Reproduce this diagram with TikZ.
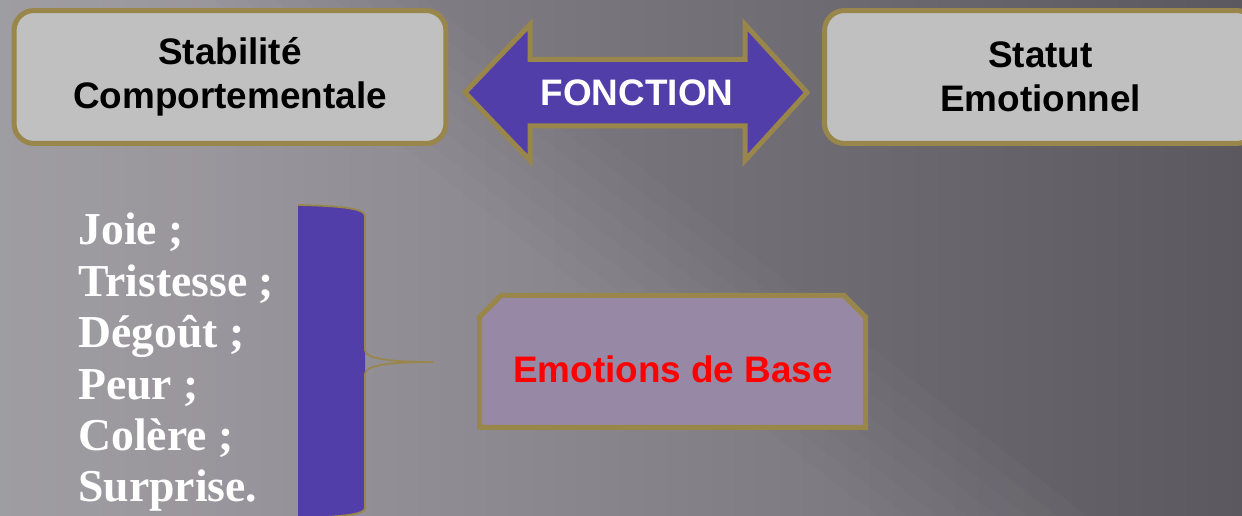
\documentclass[tikz,border=0pt]{standalone}
\usepackage{fontspec}
\setmainfont{Liberation Serif}
\setsansfont{Liberation Sans}
\definecolor{gold}{RGB}{152,134,74}
\definecolor{violet}{RGB}{82,62,168}
\definecolor{boxgray}{RGB}{192,192,192}
\definecolor{mauve}{RGB}{151,137,165}
\definecolor{bgleft}{RGB}{146,143,151}
\definecolor{bgright}{RGB}{92,88,96}

\begin{document}
\begin{tikzpicture}[x=0.02cm,y=-0.02cm,
    titlebox/.style={draw=gold,line width=0.1cm,fill=boxgray,rounded corners=0.4cm,
      minimum width=8.64cm,minimum height=2.66cm,align=center,inner sep=0pt,
      font=\sffamily\bfseries\fontsize{21}{25}\selectfont},
    emotxt/.style={anchor=base west,inner sep=0pt,text=white,
      font=\bfseries\fontsize{26}{29}\selectfont}]
    \useasboundingbox (0,0) rectangle (1242,516);
    \clip (0,0) rectangle (1242,516);
    \shade[left color=bgleft,right color=bgright] (0,0) rectangle (1242,516);
    \foreach \d in {0,30,...,210}
        \fill[white,opacity=0.018] (-400,0) -- (425-\d,0) -- (1087-\d,516) -- (-400,516) -- cycle;

    \node[titlebox] (stab) at (230,77) {Stabilité\\Comportementale};
    \node[titlebox] (statut) at (1040.5,77) {Statut\\Emotionnel};

    \draw[gold,fill=violet,line width=0.1cm,miter limit=20] (465,92.5) -- (530,24.5) -- (530,59.5) -- (745,59.5) -- (745,24.5) -- (807,92.5)
        -- (745,160.5) -- (745,126) -- (530,126) -- (530,160.5) -- cycle;
    \node[white,font=\sffamily\bfseries\fontsize{21}{25}\selectfont,inner sep=0pt] (fonction) at (637,92.5) {FONCTION};

    \fill[violet] (298,205) .. controls (345,206) and (365,209) .. (365,216) -- (365,508)
        .. controls (365,514) and (345,517) .. (298,518) -- cycle;
    \draw[gold,line width=1pt] (298,205) .. controls (345,206) and (365,209) .. (365,216) -- (365,350)
        .. controls (365,358) and (385,362) .. (433,362) .. controls (385,362) and (365,366) .. (365,374)
        -- (365,508) .. controls (365,514) and (345,517) .. (298,518);

    \foreach \t [count=\i] in {Joie ;,Tristesse ;,Dégoût ;,Peur ;,Colère ;,Surprise.}
        \node[emotxt] (emo\i) at (78,{245+(\i-1)*51.4}) {\t};

    \draw[gold,fill=mauve,line width=0.1cm] (479.5,427.5) -- (479.5,317) -- (501,295.5) -- (844,295.5) -- (865.5,317) -- (865.5,427.5) -- cycle;
    \node[red,font=\sffamily\bfseries\fontsize{21}{25}\selectfont,inner sep=0pt] (base) at (673,369) {Emotions de Base};
\end{tikzpicture}
\end{document}
